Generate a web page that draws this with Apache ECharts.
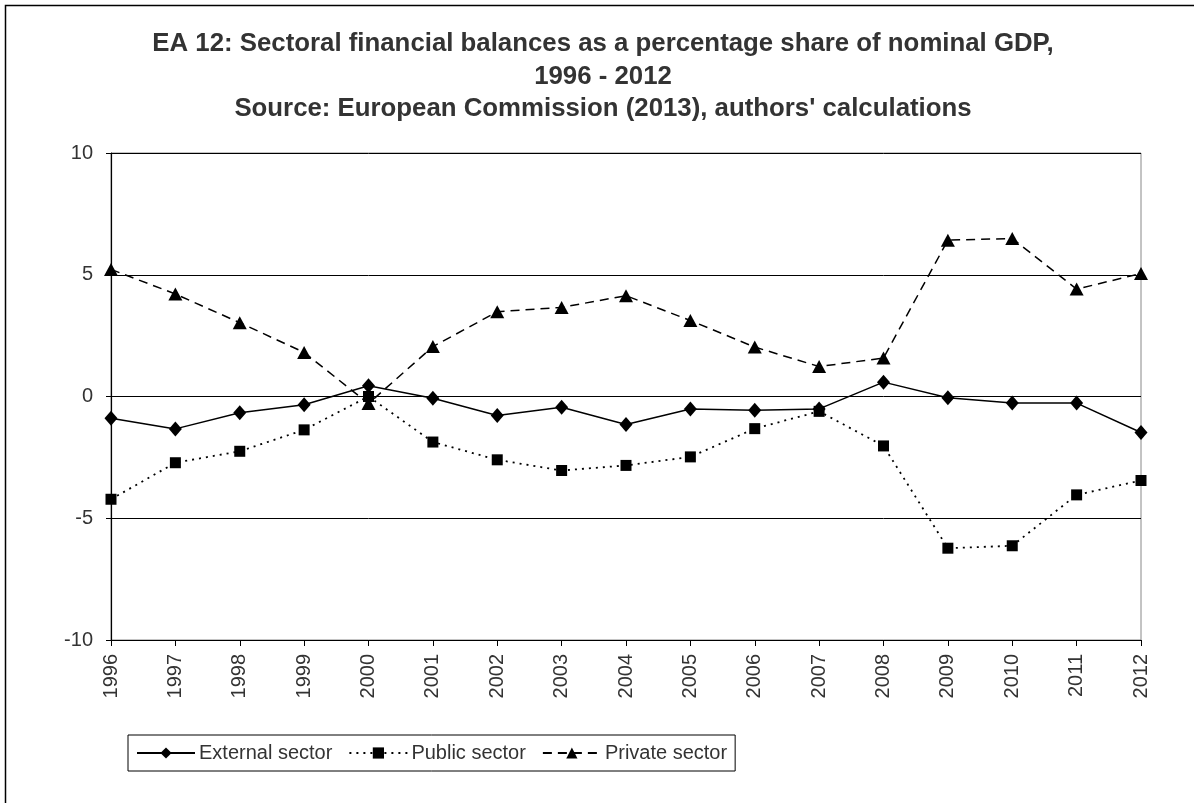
<!DOCTYPE html>
<html>
<head>
<meta charset="utf-8">
<script src="https://cdn.jsdelivr.net/npm/echarts@6/dist/echarts.min.js"></script>
<style>
html,body{margin:0;padding:0;background:#fff;}
#chart{width:1194px;height:803px;}
</style>
</head>
<body>
<div id="chart"></div>
<script>
const years = ['1996','1997','1998','1999','2000','2001','2002','2003','2004','2005','2006','2007','2008','2009','2010','2011','2012'];
const externalSector = [-0.89,-1.33,-0.67,-0.34,0.44,-0.07,-0.78,-0.44,-1.15,-0.51,-0.56,-0.51,0.59,-0.05,-0.27,-0.27,-1.48];
const publicSector = [-4.22,-2.72,-2.25,-1.37,0.0,-1.87,-2.6,-3.04,-2.83,-2.48,-1.32,-0.61,-2.03,-6.23,-6.13,-4.04,-3.45];
const privateSector = [5.22,4.21,3.03,1.81,-0.29,2.05,3.48,3.66,4.14,3.12,2.03,1.23,1.58,6.42,6.49,4.41,5.05];
const seriesNames = ['External sector','Public sector','Private sector'];
const titleText = 'EA 12: Sectoral financial balances as a percentage share of nominal GDP,\n1996 - 2012\nSource: European Commission (2013), authors\' calculations';

const FONT = '"Liberation Sans", Arial, sans-serif';
const chart = echarts.init(document.getElementById('chart'));
chart.setOption({
  backgroundColor: '#fff',
  animation: false,
  graphic: [
    { type: 'rect', shape: { x: 5.5, y: 5.5, width: 1300, height: 900 }, style: { fill: 'none', stroke: '#000', lineWidth: 1.5 }, silent: true },
    { type: 'text', x: 603, y: 28, silent: true,
      style: { text: titleText, align: 'center', verticalAlign: 'top', fill: '#333',
               font: 'bold 25.8px ' + FONT, lineHeight: 32.5 } }
  ],
  grid: { left: 111, right: 53, top: 153, bottom: 163, show: true, borderColor: '#888', borderWidth: 1 },
  legend: {
    left: 128, top: 735,
    data: seriesNames,
    itemWidth: 58, itemHeight: 14, itemGap: 16,
    padding: [8, 8, 8, 8],
    borderColor: '#000', borderWidth: 1,
    textStyle: { fontFamily: FONT, fontSize: 20, color: '#333', padding: [0, 0, 0, -1] }
  },
  xAxis: {
    type: 'category',
    data: years,
    boundaryGap: false,
    axisLine: { onZero: false, lineStyle: { color: '#000', width: 1.2 } },
    axisTick: { show: true, length: 6, inside: false, lineStyle: { color: '#000' } },
    axisLabel: { rotate: 90, margin: 14, fontFamily: FONT, fontSize: 20, color: '#333' },
    splitLine: { show: false }
  },
  yAxis: {
    type: 'value',
    min: -10, max: 10, interval: 5,
    axisLine: { show: true, lineStyle: { color: '#000', width: 1.2 } },
    axisTick: { show: true, length: 5, lineStyle: { color: '#000' } },
    axisLabel: { margin: 18, fontFamily: FONT, fontSize: 20, color: '#333' },
    splitLine: { show: true, lineStyle: { color: '#000', width: 1 } }
  },
  series: [
    {
      name: seriesNames[0], type: 'line', data: externalSector,
      symbol: 'diamond', symbolSize: [13, 15],
      itemStyle: { color: '#000' },
      lineStyle: { color: '#000', width: 1.5, type: 'solid' }
    },
    {
      name: seriesNames[1], type: 'line', data: publicSector,
      symbol: 'rect', symbolSize: 11,
      itemStyle: { color: '#000' },
      lineStyle: { color: '#000', width: 1.8, type: [2, 5] }
    },
    {
      name: seriesNames[2], type: 'line', data: privateSector,
      symbol: 'triangle', symbolSize: [14, 13],
      itemStyle: { color: '#000' },
      lineStyle: { color: '#000', width: 1.5, type: [9, 6] }
    }
  ]
});
</script>
</body>
</html>
